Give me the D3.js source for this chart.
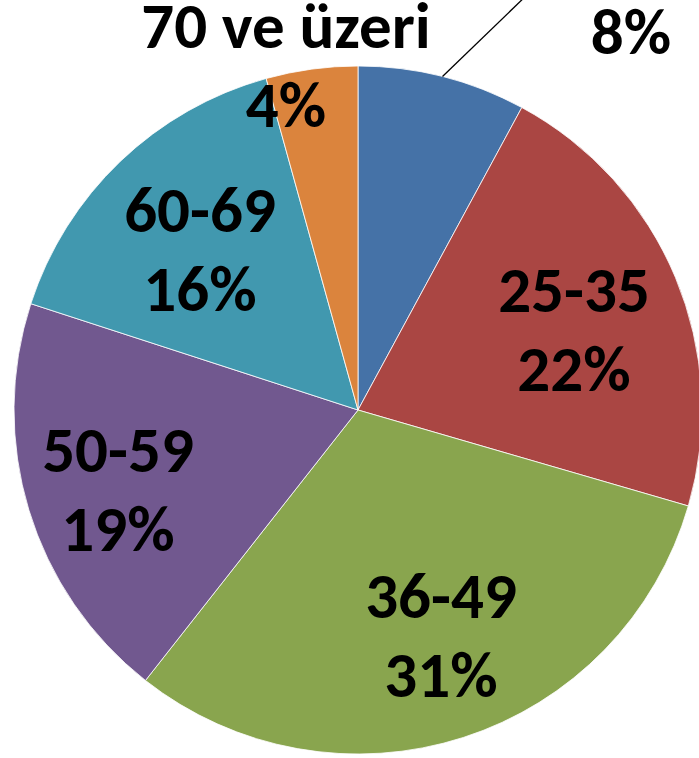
<!DOCTYPE html>
<html>
<head>
<meta charset="utf-8">
<script src="https://cdn.jsdelivr.net/npm/d3@7"></script>
<style>
  body { margin: 0; background: #fff; overflow: hidden; }
  text { font-family: Carlito, Calibri, "Open Sans", sans-serif; font-weight: bold; fill: #000; }
</style>
</head>
<body>
<div id="chart"></div>
<script>
// age groups and their share (%)
var groups = ["18-24", "25-35", "36-49", "50-59", "60-69", "70 ve üzeri"];
var shares = [7.9, 21.6, 31.1, 19.4, 15.7, 4.3];
var colors = ["#4572A7", "#AA4643", "#89A54E", "#71588F", "#4198AF", "#DB843D"];

// where each label block sits (center x, baseline of the name line)
// the first one has its name above the visible area, only the % shows
var labelPos = [[631, -25], [574, 312], [441, 618], [118, 472], [200, 232], [286, 48]];

var w = 699, h = 758;
var cx = 358, cy = 410, r = 344;
var lineGap = 79;

var svg = d3.select("#chart")
  .append("svg")
  .attr("width", w)
  .attr("height", h);

var data = groups.map(function(g, i) { return {name: g, value: shares[i]}; });

var pie = d3.pie().sort(null).value(function(d) { return d.value; });
var arc = d3.arc().innerRadius(0).outerRadius(r);

var g = svg.append("g").attr("transform", "translate(" + cx + "," + cy + ")");

g.selectAll("path")
  .data(pie(data))
  .enter()
  .append("path")
  .attr("d", arc)
  .attr("fill", function(d, i) { return colors[i]; })
  .attr("stroke", "#fff")
  .attr("stroke-width", 0.8);

// leader line for the small first slice
var first = pie(data)[0];
var a = (first.startAngle + first.endAngle) / 2;
svg.append("line")
  .attr("x1", cx + r * Math.sin(a))
  .attr("y1", cy - r * Math.cos(a))
  .attr("x2", 560)
  .attr("y2", -37)
  .attr("stroke", "#000")
  .attr("stroke-width", 1.3);

var labels = svg.selectAll(".lbl")
  .data(data)
  .enter()
  .append("text")
  .attr("class", "lbl")
  .attr("text-anchor", "middle")
  .style("font-size", "65px");

// name line (skipped for the first slice, it lies off the top)
labels.filter(function(d, i) { return i > 0; })
  .append("tspan")
  .attr("x", function(d) { return labelPos[groups.indexOf(d.name)][0]; })
  .attr("y", function(d) { return labelPos[groups.indexOf(d.name)][1]; })
  .text(function(d) { return d.name; });

labels.append("tspan")
  .attr("x", function(d, i) { return labelPos[i][0]; })
  .attr("y", function(d, i) { return labelPos[i][1] + lineGap; })
  .text(function(d) { return Math.round(d.value) + "%"; });
</script>
</body>
</html>
